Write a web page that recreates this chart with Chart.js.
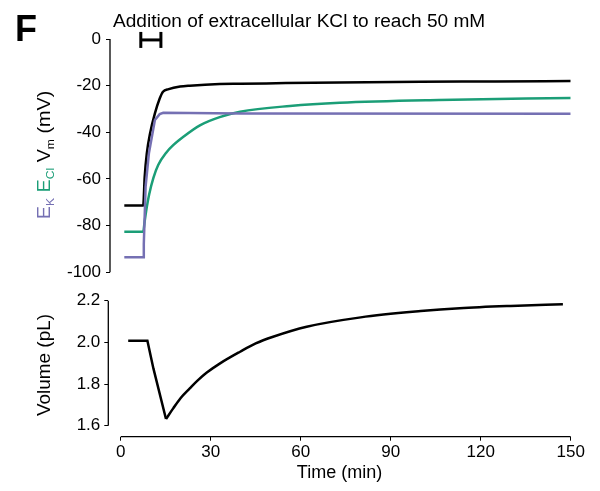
<!DOCTYPE html>
<html>
<head>
<meta charset="utf-8">
<script src="https://cdn.jsdelivr.net/npm/chart.js@4.4.1/dist/chart.umd.min.js"></script>
<style>
  html, body { margin: 0; padding: 0; background: #fff; }
  #wrap { position: relative; width: 600px; height: 491px; font-family: 'Liberation Sans', Arial, sans-serif; color: #000; }
  canvas { position: absolute; left: 0; top: 0; }
  .txt { position: absolute; white-space: nowrap; line-height: 1; }
  .ylab { font-size: 18px; }
  .ylab sub { font-size: 11px; vertical-align: -4px; line-height: 0; }
</style>
</head>
<body>
<div id="wrap">
  <canvas id="topChart" width="600" height="491"></canvas>
  <canvas id="volChart" width="600" height="491"></canvas>
  <div class="txt" style="left:15px; top:11px; font-size:36px; font-weight:bold;">F</div>
  <div class="txt" style="left:113px; top:12px; font-size:18px; transform:scaleX(1.06); transform-origin:left center;">Addition of extracellular KCl to reach 50 mM</div>
  <div class="txt ylab" style="left:44px; top:155px; transform:translate(-50%,-50%) rotate(-90deg) scaleX(1.1);"><span style="color:#7570b3">E<sub>K</sub></span> <span style="color:#1b9e77">E<sub>Cl</sub></span> V<sub>m</sub> (mV)</div>
  <div class="txt ylab" style="left:44px; top:365px; transform:translate(-50%,-50%) rotate(-90deg) scaleX(1.05);">Volume (pL)</div>
</div>
<script>
// ===== Data =====
const xTicks = [0, 30, 60, 90, 120, 150]
const vmTicks = [0, -20, -40, -60, -80, -100]
const volTicks = [1.6, 1.8, 2.0, 2.2]

// membrane potential (black)
const vmTime = [1.2, 7.5, 8.0, 8.7, 9.8, 11.4, 13, 14.1, 16, 19.8, 23, 33, 40, 55, 73, 100, 125, 150]
const vmValues = [-71.4, -71.4, -59, -49, -40.4, -31.9, -25.5, -22.6, -21.5, -20.4, -20.0, -19.3, -19.2, -18.9, -18.6, -18.3, -18.2, -18.0]

// chloride reversal potential (green)
const eclTime = [1.2, 7.5, 8.0, 8.7, 9.5, 10.9, 12.5, 15.3, 17.5, 20.9, 26.4, 33, 39.8, 56.4, 73, 106, 150]
const eclValues = [-82.6, -82.6, -78, -72, -66.5, -59.5, -54, -48.5, -45.5, -41.9, -37, -33.5, -31.2, -28.7, -27.3, -26.1, -25.3]

// potassium reversal potential (purple)
const ekTime = [1.2, 7.5, 7.7, 8.3, 9.4, 11.4, 13, 14.2, 40, 150]
const ekValues = [-93.6, -93.6, -88, -63.3, -49, -34.7, -32.2, -31.6, -31.9, -32.0]

// KCl addition marker
const kclTime = [6.7, 13.4]
const kclLevel = [-0.4, -0.4]

// cell volume (black): shrink phase, then recovery
const volDropTime = [2.5, 8.9, 10.9, 15.1]
const volDropValues = [2.008, 2.008, 1.875, 1.632]
const volRecoverTime = [15.1, 17.5, 20, 23.1, 25.5, 28.7, 33, 39.8, 45, 50.8, 62, 80, 100, 113, 130, 147.4]
const volRecoverValues = [1.632, 1.683, 1.733, 1.78, 1.815, 1.855, 1.898, 1.955, 1.995, 2.027, 2.075, 2.12, 2.150, 2.164, 2.175, 2.183]

const PURPLE = '#7570b3'
const GREEN = '#1b9e77'
const FONT = "'Liberation Sans', Arial, sans-serif"

const pairs = (xs, ys) => xs.map((x, i) => ({ x: x, y: ys[i] }))

Chart.defaults.font.family = FONT
Chart.defaults.color = '#000'

// axis spines drawn only over the tick range (offset axes look)
const spines = {
  id: 'spines',
  afterDraw(chart, args, opts) {
    const ctx = chart.ctx
    const { left, bottom } = chart.chartArea
    const y = chart.scales.y
    const x = chart.scales.x
    ctx.save()
    ctx.strokeStyle = '#000'
    ctx.lineWidth = 1.3
    ctx.beginPath()
    ctx.moveTo(left, y.getPixelForValue(opts.yFrom))
    ctx.lineTo(left, y.getPixelForValue(opts.yTo))
    if (opts.xAxis) {
      ctx.moveTo(x.getPixelForValue(xTicks[0]), bottom)
      ctx.lineTo(x.getPixelForValue(xTicks[xTicks.length - 1]), bottom)
    }
    ctx.stroke()
    ctx.restore()
  }
}

const tickGrid = { display: true, drawOnChartArea: false, drawTicks: true, tickLength: 4, color: '#000', lineWidth: 1 }

// ===== Top panel: potentials =====
new Chart(document.getElementById('topChart'), {
  type: 'line',
  data: {
    datasets: [
      { label: 'E_K', data: pairs(ekTime, ekValues), borderColor: PURPLE, borderWidth: 2.5, pointRadius: 0, tension: 0 },
      { label: 'E_Cl', data: pairs(eclTime, eclValues), borderColor: GREEN, borderWidth: 2.5, pointRadius: 0, cubicInterpolationMode: 'monotone' },
      { label: 'V_m', data: pairs(vmTime, vmValues), borderColor: '#000', borderWidth: 2.5, pointRadius: 0, cubicInterpolationMode: 'monotone' },
      {
        label: 'KCl', data: pairs(kclTime, kclLevel), borderColor: '#000', borderWidth: 3, clip: false,
        pointStyle: 'line', pointRotation: 90, pointRadius: 8, pointBorderWidth: 3, pointBorderColor: '#000'
      }
    ]
  },
  options: {
    responsive: false,
    animation: false,
    layout: { padding: { top: 39, right: 29.3, bottom: 218.7, left: 0 } },
    plugins: { legend: { display: false }, tooltip: { enabled: false }, spines: { yFrom: 0, yTo: -100 } },
    scales: {
      x: { type: 'linear', min: -3.567, max: 150, display: false },
      y: {
        type: 'linear', min: -100, max: 0,
        afterFit: s => { s.width = 110 },
        afterBuildTicks: s => { s.ticks = vmTicks.map(v => ({ value: v })) },
        ticks: { color: '#000', font: { size: 17 }, padding: 5 },
        grid: tickGrid,
        border: { display: false }
      }
    }
  },
  plugins: [spines]
})

// ===== Bottom panel: volume =====
new Chart(document.getElementById('volChart'), {
  type: 'line',
  data: {
    datasets: [
      { label: 'Volume', data: pairs(volDropTime, volDropValues), borderColor: '#000', borderWidth: 2.5, pointRadius: 0, tension: 0, borderJoinStyle: 'miter' },
      { label: 'Volume recovery', data: pairs(volRecoverTime, volRecoverValues), borderColor: '#000', borderWidth: 2.5, pointRadius: 0, cubicInterpolationMode: 'monotone' }
    ]
  },
  options: {
    responsive: false,
    animation: false,
    layout: { padding: { top: 300.7, right: 29.3, bottom: 6.8, left: 0 } },
    plugins: { legend: { display: false }, tooltip: { enabled: false }, spines: { yFrom: 1.6, yTo: 2.2, xAxis: true } },
    scales: {
      x: {
        type: 'linear', min: -4.133, max: 150,
        afterFit: s => { s.height = 47.5 },
        afterBuildTicks: s => { s.ticks = xTicks.map(v => ({ value: v })) },
        ticks: { color: '#000', font: { size: 17 }, padding: 1, maxRotation: 0, autoSkip: false },
        title: { display: true, text: 'Time (min)', color: '#000', font: { size: 18 }, padding: 0 },
        grid: tickGrid,
        border: { display: false }
      },
      y: {
        type: 'linear', min: 1.5472, max: 2.2,
        afterFit: s => { s.width = 108.3 },
        afterBuildTicks: s => { s.ticks = volTicks.map(v => ({ value: v })) },
        ticks: { color: '#000', font: { size: 17 }, padding: 4, callback: v => v.toFixed(1) },
        grid: tickGrid,
        border: { display: false }
      }
    }
  },
  plugins: [spines]
})
</script>
</body>
</html>
